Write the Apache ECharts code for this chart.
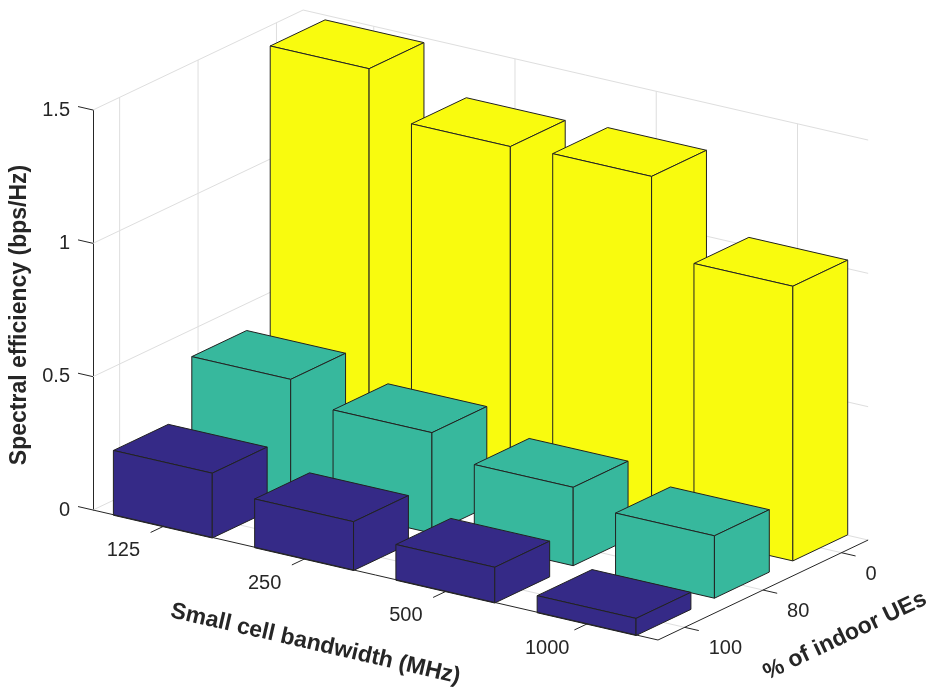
<!DOCTYPE html>
<html><head><meta charset="utf-8">
<script src="https://cdn.jsdelivr.net/npm/echarts@6/dist/echarts.min.js"></script>
<style>html,body{margin:0;padding:0;background:#fff}#main{width:929px;height:691px}</style>
</head><body><div id="main"></div>
<script>
// ---- data ----
const bandwidths = ['125', '250', '500', '1000'];      // x categories (Small cell bandwidth, MHz)
const indoorPct = ['0', '80', '100'];                  // y categories (% of indoor UEs)
const se0 = [1.48, 1.31, 1.32, 1.03];                  // 0 % indoor
const se80 = [0.455, 0.377, 0.294, 0.234];             // 80 % indoor
const se100 = [0.243, 0.183, 0.134, 0.064];            // 100 % indoor
const zTicks = [0, 0.5, 1, 1.5];

// ---- styling / view ----
const seriesValues = [se0, se80, se100];
const colors = ['#F9FB0E', '#37B89D', '#352A87'];
const FONT = '"Liberation Sans", Arial, Helvetica, sans-serif';
const TXT = '#262626', GRIDC = '#dedede', EDGE = '#222222';
const XLIM = [0.5, bandwidths.length + 0.5];
const YLIM = [0.66, indoorPct.length + 0.34];
const HALF = 0.35;
// projected offset per data unit: [right, down] in pixels
const VX = [141.25, 32.5], VY = [-78.4, 37.3];
const Z_PX = 400 / 1.5;
const TITLE_SIZE = 23;

function proj(x, y, z) {
  const dx = x - XLIM[0], dy = y - YLIM[1];
  return [dx * VX[0] + dy * VY[0], z - (dx * VX[1] + dy * VY[1]) / Z_PX];
}

const chart = echarts.init(document.getElementById('main'), null, {renderer: 'canvas'});

function line(api, a, b, color) {
  const p = api.coord(proj(a[0], a[1], a[2]));
  const q = api.coord(proj(b[0], b[1], b[2]));
  return {type: 'line', shape: {x1: p[0], y1: p[1], x2: q[0], y2: q[1]},
          style: {stroke: color, lineWidth: 1}, silent: true};
}
function text(x, y, str, opt) {
  return Object.assign({type: 'text', x: x, y: y, silent: true,
    style: {text: str, fill: TXT, fontFamily: FONT, fontSize: 20,
            align: 'center', verticalAlign: 'middle'}}, opt || {});
}
function title(x, y, str, rot) {
  return {type: 'text', x: x, y: y, rotation: rot, silent: true,
    style: {text: str, fill: TXT, fontFamily: FONT, fontSize: TITLE_SIZE, fontWeight: 'bold',
            align: 'center', verticalAlign: 'middle'}};
}

function renderWalls(params, api) {
  const ch = [];
  const zTop = zTicks[zTicks.length - 1];
  zTicks.forEach(z => {
    ch.push(line(api, [XLIM[0], YLIM[1], z], [XLIM[0], YLIM[0], z], GRIDC));
    ch.push(line(api, [XLIM[0], YLIM[0], z], [XLIM[1], YLIM[0], z], GRIDC));
  });
  indoorPct.forEach((c, i) => {
    const y = i + 1;
    ch.push(line(api, [XLIM[0], y, 0], [XLIM[0], y, zTop], GRIDC));
    ch.push(line(api, [XLIM[0], y, 0], [XLIM[1], y, 0], GRIDC));
  });
  bandwidths.forEach((c, i) => {
    const x = i + 1;
    ch.push(line(api, [x, YLIM[0], 0], [x, YLIM[0], zTop], GRIDC));
    ch.push(line(api, [x, YLIM[0], 0], [x, YLIM[1], 0], GRIDC));
  });
  return {type: 'group', children: ch};
}

function renderBar(color) {
  return function (params, api) {
    const x = api.value(0), y = api.value(1), h = api.value(2);
    const P = (a, b, c) => api.coord(proj(a, b, c));
    const faces = [
      [P(x - HALF, y - HALF, h), P(x + HALF, y - HALF, h), P(x + HALF, y + HALF, h), P(x - HALF, y + HALF, h)],
      [P(x - HALF, y + HALF, 0), P(x + HALF, y + HALF, 0), P(x + HALF, y + HALF, h), P(x - HALF, y + HALF, h)],
      [P(x + HALF, y - HALF, 0), P(x + HALF, y + HALF, 0), P(x + HALF, y + HALF, h), P(x + HALF, y - HALF, h)]
    ];
    return {type: 'group', children: faces.map(pts => ({
      type: 'polygon', shape: {points: pts},
      style: {fill: color, stroke: EDGE, lineWidth: 1, lineJoin: 'round'}
    }))};
  };
}

function renderAxes(params, api) {
  const ch = [];
  // axis lines
  ch.push(line(api, [XLIM[0], YLIM[1], 0], [XLIM[1], YLIM[1], 0], TXT));
  ch.push(line(api, [XLIM[1], YLIM[0], 0], [XLIM[1], YLIM[1], 0], TXT));
  // z ticks
  zTicks.forEach(z => ch.push(line(api, [XLIM[0], YLIM[1], z], [XLIM[0] - 0.106, YLIM[1], z], TXT)));
  // x ticks + labels
  bandwidths.forEach((lab, i) => {
    const x = i + 1;
    ch.push(line(api, [x, YLIM[1], 0], [x, YLIM[1] + 0.166, 0], TXT));
    const p = api.coord(proj(x, YLIM[1] + 0.5, 0));
    ch.push(text(p[0] - 1, p[1] + 6, lab));
  });
  // y ticks + labels
  indoorPct.forEach((lab, i) => {
    const y = i + 1;
    ch.push(line(api, [XLIM[1], y, 0], [XLIM[1] + 0.1, y, 0], TXT));
    const p = api.coord(proj(XLIM[1] + 0.17, y, 0));
    ch.push(text(p[0], p[1] + 16, lab, {style: {text: lab, fill: TXT, fontFamily: FONT, fontSize: 20, align: 'left', verticalAlign: 'middle'}}));
  });
  // axis titles
  const tz = api.coord(proj(XLIM[0], YLIM[1], 0.75));
  ch.push(title(tz[0] - 73.5, tz[1] + 5, 'Spectral efficiency (bps/Hz)', Math.PI / 2));
  const tx = api.coord(proj((XLIM[0] + XLIM[1]) / 2, YLIM[1], 0));
  ch.push(title(tx[0] - 60, tx[1] + 69, 'Small cell bandwidth (MHz)', -Math.atan2(VX[1], VX[0])));
  const ty = api.coord(proj(XLIM[1], (YLIM[0] + YLIM[1]) / 2, 0));
  ch.push(title(ty[0] + 82, ty[1] + 46, '% of indoor UEs', Math.atan2(VY[1], -VY[0])));
  return {type: 'group', children: ch};
}

const series = [{
  type: 'custom', renderItem: renderWalls, data: [[0, 0]], clip: false, silent: true, z: 1
}];
seriesValues.forEach((vals, r) => {
  series.push({
    type: 'custom', name: indoorPct[r] + '%', renderItem: renderBar(colors[r]),
    data: vals.map((v, i) => [i + 1, r + 1, v]), encode: {x: 0, y: 2},
    clip: false, silent: true, z: 2
  });
});
series.push({type: 'custom', renderItem: renderAxes, data: [[0, 0]], clip: false, silent: true, z: 3});

chart.setOption({
  animation: false,
  backgroundColor: '#ffffff',
  grid: {left: 93, top: 110, width: 775, height: 400, containLabel: false},
  xAxis: {type: 'value', min: 0, max: 775, show: false},
  yAxis: {
    type: 'value', min: 0, max: 1.5, interval: 0.5,
    axisLine: {show: true, lineStyle: {color: TXT, width: 1}},
    axisTick: {show: false}, splitLine: {show: false},
    axisLabel: {color: TXT, fontSize: 20, fontFamily: FONT, margin: 23}
  },
  series: series
});
</script>
</body></html>
